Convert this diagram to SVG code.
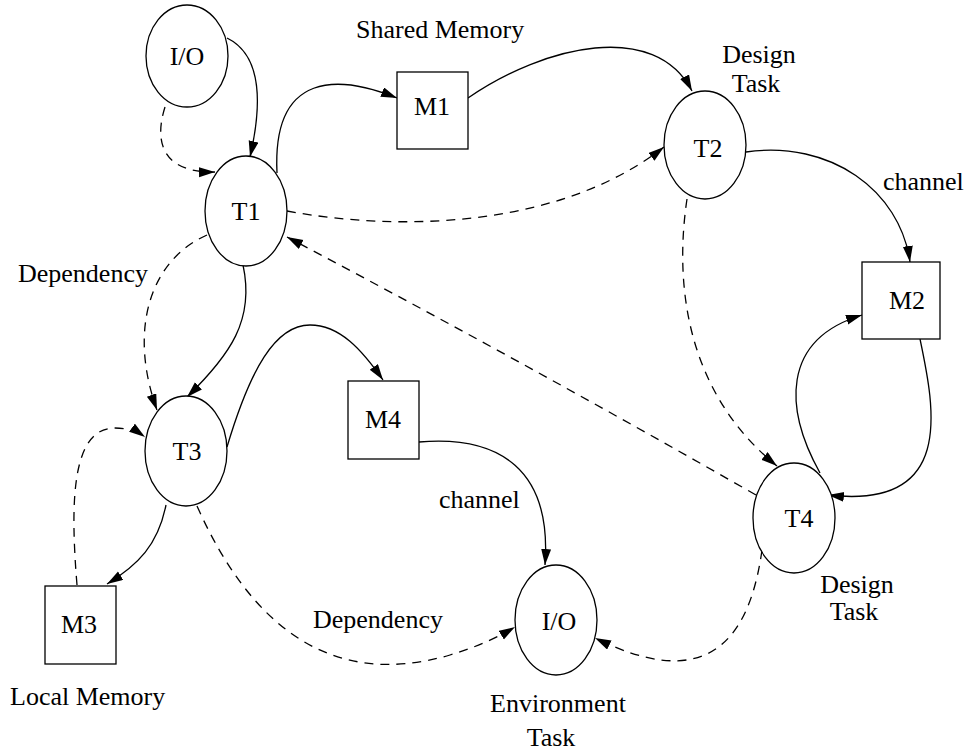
<svg xmlns="http://www.w3.org/2000/svg" width="969" height="752" viewBox="0 0 969 752">
  <defs>
    <marker id="arrow" markerUnits="userSpaceOnUse" markerWidth="18" markerHeight="12" refX="16" refY="5" orient="auto">
      <path d="M0,0 L16,5 L0,10 Z" fill="#000"/>
    </marker>
    <style>
      .node { fill: #fff; stroke: #000; stroke-width: 1.3; }
      .lbl { font-family: "Liberation Serif", "Times New Roman", serif; font-size: 26px; fill: #000; }
      .mid { text-anchor: middle; }
      .edge { fill: none; stroke: #000; stroke-width: 1.3; }
      .dash { stroke-dasharray: 9 7; }
      .arr { marker-end: url(#arrow); }
    </style>
  </defs>
  <rect width="969" height="752" fill="#fff"/>

  <!-- connectors -->
  <g id="edges">
    <!-- I/O (top) to T1 -->
    <path class="edge arr" d="M227,38 C262,55 262,105 250,157"/>
    <path class="edge dash arr" d="M165,107 C153,145 165,173 215,172"/>
    <!-- T1 to shared memory M1, M1 to T2 -->
    <path class="edge arr" d="M277,173 C272,70 340,75 397,98"/>
    <path class="edge arr" d="M468,98 C545,45 655,20 692,91"/>
    <!-- T1 dependency to T2 -->
    <path class="edge dash arr" d="M287,211 C400,232 560,228 664,147"/>
    <!-- T2 channel to M2 -->
    <path class="edge arr" d="M746,152 C830,140 900,190 910,262"/>
    <!-- T2 dependency to T4 -->
    <path class="edge dash arr" d="M687,199 C672,300 695,400 777,466"/>
    <!-- T4 dependency back to T1 -->
    <path class="edge dash arr" d="M756,495 Q520,360 287,237"/>
    <!-- T4 and M2 loop -->
    <path class="edge arr" d="M820,473 C785,410 780,340 862,315"/>
    <path class="edge arr" d="M920,339 C935,410 955,510 828,495"/>
    <!-- T1 to T3 -->
    <path class="edge arr" d="M243,265 C255,320 230,355 187,397"/>
    <path class="edge dash arr" d="M207,235 C150,260 128,330 157,410"/>
    <!-- T3 to M4, M4 channel to I/O (bottom) -->
    <path class="edge arr" d="M227,447 C250,370 275,325 310,325 C340,325 362,350 383,380"/>
    <path class="edge arr" d="M419,442 C500,435 552,470 545,565"/>
    <!-- T3 and local memory M3 -->
    <path class="edge arr" d="M166,505 C158,545 138,565 107,584"/>
    <path class="edge dash arr" d="M77,585 C70,500 72,428 115,428 C128,428 138,432 145,437"/>
    <!-- dependencies into I/O (bottom) -->
    <path class="edge dash arr" d="M197,506 C250,625 330,690 450,655 C480,646 500,636 515,627"/>
    <path class="edge dash arr" d="M762,550 C748,650 700,690 595,638"/>
  </g>

  <g id="io-top">
    <ellipse class="node" cx="187" cy="56" rx="41" ry="51"/>
    <text class="lbl mid" x="187" y="65">I/O</text>
  </g>
  <g id="t1">
    <ellipse class="node" cx="246" cy="211" rx="41" ry="55"/>
    <text class="lbl mid" x="246" y="220">T1</text>
  </g>
  <g id="m1">
    <rect class="node" x="397" y="72" width="71" height="77"/>
    <text class="lbl mid" x="432" y="115">M1</text>
  </g>
  <g id="t2">
    <ellipse class="node" cx="705" cy="145" rx="41" ry="54"/>
    <text class="lbl mid" x="708" y="157">T2</text>
  </g>
  <g id="m2">
    <rect class="node" x="862" y="262" width="78" height="77"/>
    <text class="lbl mid" x="907" y="309">M2</text>
  </g>
  <g id="t3">
    <ellipse class="node" cx="186" cy="451" rx="41" ry="55"/>
    <text class="lbl mid" x="187" y="460">T3</text>
  </g>
  <g id="m4">
    <rect class="node" x="348" y="381" width="71" height="78"/>
    <text class="lbl mid" x="383" y="428">M4</text>
  </g>
  <g id="m3">
    <rect class="node" x="45" y="586" width="71" height="78"/>
    <text class="lbl mid" x="79" y="633">M3</text>
  </g>
  <g id="io-bottom">
    <ellipse class="node" cx="556" cy="620" rx="41" ry="55"/>
    <text class="lbl mid" x="559" y="630">I/O</text>
  </g>
  <g id="t4">
    <ellipse class="node" cx="794" cy="518" rx="41" ry="55"/>
    <text class="lbl mid" x="799" y="527">T4</text>
  </g>

  <!-- annotations -->
  <g id="labels">
    <text class="lbl" x="356" y="38">Shared Memory</text>
    <text class="lbl mid" x="759" y="63">Design</text>
    <text class="lbl mid" x="756" y="92">Task</text>
    <text class="lbl" x="883" y="190">channel</text>
    <text class="lbl" x="18" y="282">Dependency</text>
    <text class="lbl" x="439" y="508">channel</text>
    <text class="lbl" x="313" y="628">Dependency</text>
    <text class="lbl" x="10" y="705">Local Memory</text>
    <text class="lbl mid" x="558" y="712">Environment</text>
    <text class="lbl mid" x="551" y="746">Task</text>
    <text class="lbl mid" x="857" y="593">Design</text>
    <text class="lbl mid" x="854" y="620">Task</text>
  </g>
</svg>
